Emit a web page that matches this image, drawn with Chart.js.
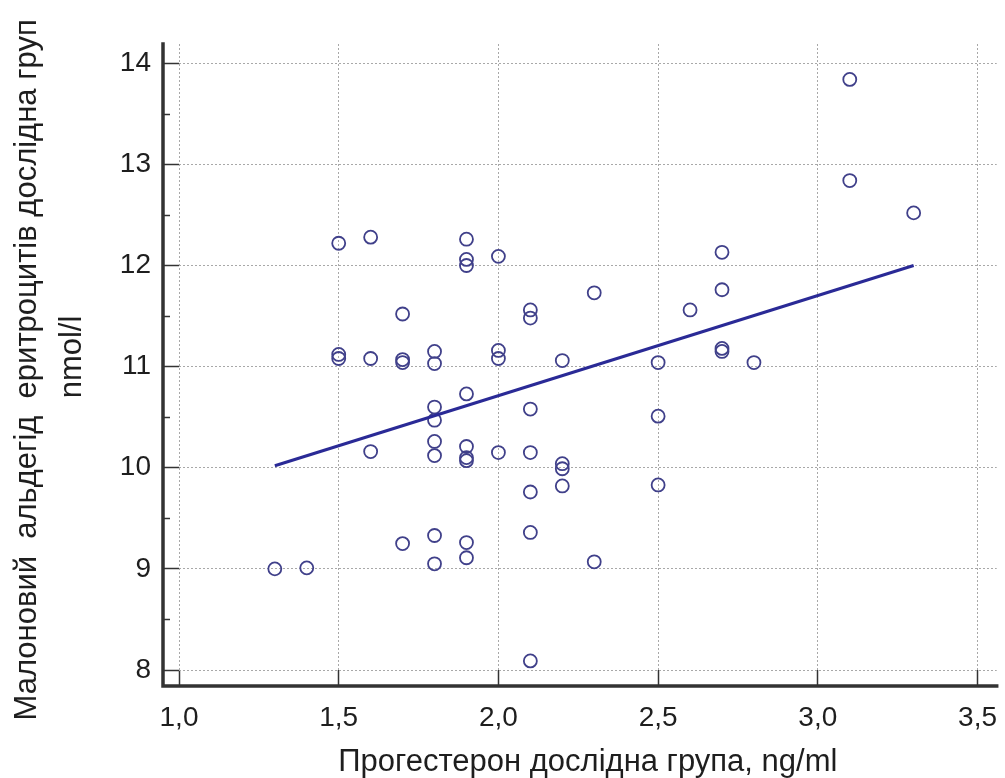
<!DOCTYPE html>
<html>
<head>
<meta charset="utf-8">
<script src="https://cdn.jsdelivr.net/npm/chart.js@4"></script>
<style>
  html, body { margin: 0; padding: 0; background: #fff; }
  #wrap { width: 1005px; height: 778px; }
</style>
</head>
<body>
<div id="wrap"><canvas id="c" width="1005" height="778"></canvas></div>
<script>
// Progesterone (ng/ml) per observation
const progesterone = [
  1.3, 1.4,
  1.5, 1.5, 1.5,
  1.6, 1.6, 1.6,
  1.7, 1.7, 1.7, 1.7,
  1.8, 1.8, 1.8, 1.8, 1.8, 1.8, 1.8, 1.8,
  1.9, 1.9, 1.9, 1.9, 1.9, 1.9, 1.9, 1.9, 1.9,
  2.0, 2.0, 2.0, 2.0,
  2.1, 2.1, 2.1, 2.1, 2.1, 2.1, 2.1,
  2.2, 2.2, 2.2, 2.2,
  2.3, 2.3,
  2.5, 2.5, 2.5,
  2.6,
  2.7, 2.7, 2.7, 2.7,
  2.8,
  3.1, 3.1,
  3.3
];
// Malondialdehyde of erythrocytes (nmol/l) per observation
const malondialdehyde = [
  9.00, 9.01,
  12.22, 11.12, 11.08,
  12.28, 11.08, 10.16,
  11.52, 11.07, 11.04, 9.25,
  11.15, 11.03, 10.60, 10.47, 10.26, 10.12, 9.33, 9.05,
  12.26, 12.06, 12.00, 10.73, 10.21, 10.10, 10.07, 9.26, 9.11,
  12.09, 11.16, 11.08, 10.15,
  11.56, 11.48, 10.58, 10.15, 9.76, 9.36, 8.09,
  11.06, 10.04, 9.99, 9.82,
  11.73, 9.07,
  11.04, 10.51, 9.83,
  11.56,
  12.13, 11.76, 11.18, 11.15,
  11.04,
  13.84, 12.84,
  12.52
];
// Regression line end points
const fitX = [1.3, 3.3];
const fitY = [10.02, 12.0];

const xTickValues = [1.0, 1.5, 2.0, 2.5, 3.0, 3.5];
const xTickLabels = ['1,0', '1,5', '2,0', '2,5', '3,0', '3,5'];
const yTickValues = [8, 9, 10, 11, 12, 13, 14];
const yTickLabels = ['8', '9', '10', '11', '12', '13', '14'];
const yMinorValues = [8.5, 9.5, 10.5, 11.5, 12.5, 13.5];

const xTitle = 'Прогестерон дослідна група, ng/ml';
const yTitle = ['Малоновий  альдегід  еритроцитів дослідна груп   ', 'nmol/l'];

const FONT = "'Liberation Sans', Arial, Helvetica, sans-serif";
const TICK_LEN = 16;

const axisPlugin = {
  id: 'offsetAxes',
  afterDraw(chart) {
    const { ctx, chartArea: ca, scales } = chart;
    const ax = ca.left - TICK_LEN;
    const ay = ca.bottom + TICK_LEN;
    ctx.save();
    // minor ticks on y axis
    ctx.strokeStyle = '#333';
    ctx.lineWidth = 1.5;
    yMinorValues.forEach(v => {
      const py = Math.round(scales.y.getPixelForValue(v)) + 0.5;
      ctx.beginPath();
      ctx.moveTo(ax, py);
      ctx.lineTo(ax + 7, py);
      ctx.stroke();
    });
    // thick axis lines
    ctx.strokeStyle = '#333';
    ctx.lineWidth = 3.5;
    ctx.lineCap = 'square';
    ctx.beginPath();
    ctx.moveTo(ax, ca.top);
    ctx.lineTo(ax, ay);
    ctx.lineTo(ca.right, ay);
    ctx.stroke();
    ctx.restore();
  }
};

new Chart(document.getElementById('c'), {
  type: 'scatter',
  data: {
    datasets: [
      {
        type: 'line',
        data: fitX.map((x, i) => ({ x, y: fitY[i] })),
        borderColor: '#2a2a96',
        borderWidth: 3,
        pointRadius: 0,
        fill: false,
        order: 0
      },
      {
        data: progesterone.map((x, i) => ({ x, y: malondialdehyde[i] })),
        pointStyle: 'circle',
        pointRadius: 6.5,
        pointBorderWidth: 1.8,
        borderColor: '#40408a',
        backgroundColor: 'rgba(0,0,0,0)',
        pointBackgroundColor: 'rgba(0,0,0,0)',
        clip: false,
        order: 1
      }
    ]
  },
  options: {
    responsive: false,
    devicePixelRatio: 1,
    animation: false,
    events: [],
    layout: { padding: { top: 44, right: 5, left: 0, bottom: 0 } },
    plugins: {
      legend: { display: false },
      tooltip: { enabled: false }
    },
    scales: {
      x: {
        type: 'linear',
        min: 1.0,
        max: 3.56,
        afterFit(s) { s.height = 108; s.paddingLeft = 0; s.paddingRight = 0; },
        afterBuildTicks(s) { s.ticks = xTickValues.map(v => ({ value: v })); },
        ticks: {
          padding: 15,
          color: '#1e1e1e',
          font: { family: FONT, size: 28 },
          callback: (v) => xTickLabels[xTickValues.indexOf(v)] ?? ''
        },
        grid: {
          color: '#a8a8a8',
          lineWidth: 1,
          tickLength: TICK_LEN,
          tickColor: '#333',
          tickWidth: 1.5,
          tickBorderDash: []
        },
        border: { display: false, dash: [2, 2] },
        title: {
          display: true,
          text: xTitle,
          color: '#1e1e1e',
          font: { family: FONT, size: 31, lineHeight: 1.0 },
          padding: { top: 0, bottom: 0 }
        }
      },
      y: {
        type: 'linear',
        min: 8,
        max: 14.19,
        afterFit(s) { s.width = 179; s.paddingTop = 0; s.paddingBottom = 0; },
        afterBuildTicks(s) { s.ticks = yTickValues.map(v => ({ value: v })); },
        ticks: {
          padding: 12,
          color: '#1e1e1e',
          font: { family: FONT, size: 28 },
          callback: (v) => yTickLabels[yTickValues.indexOf(v)] ?? ''
        },
        grid: {
          color: '#a8a8a8',
          lineWidth: 1,
          tickLength: TICK_LEN,
          tickColor: '#333',
          tickWidth: 1.5,
          tickBorderDash: []
        },
        border: { display: false, dash: [2, 2] },
        title: {
          display: true,
          text: yTitle,
          color: '#1e1e1e',
          font: { family: FONT, size: 31, lineHeight: 1.45 },
          padding: { top: 5, bottom: 0 }
        }
      }
    }
  },
  plugins: [axisPlugin]
});
</script>
</body>
</html>
